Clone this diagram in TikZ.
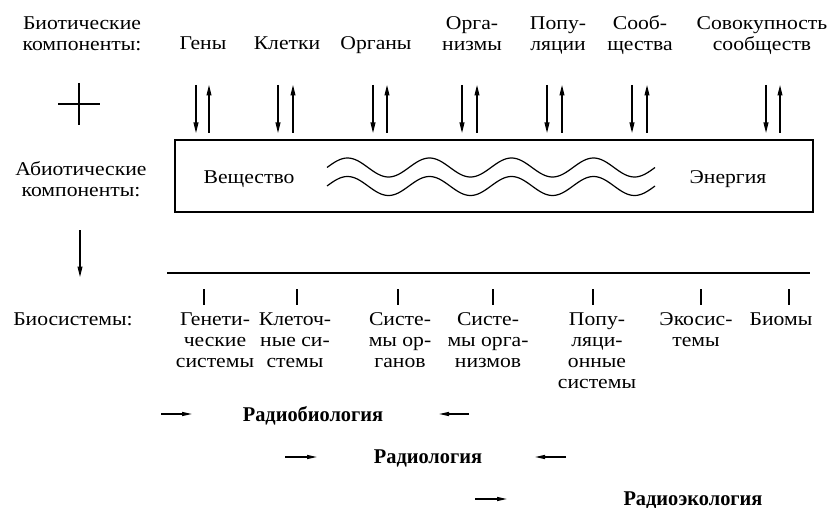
\documentclass[tikz,border=0pt]{standalone}
\usepackage{fontspec}
\setmainfont{Liberation Serif}[FakeStretch=1.11]
\newfontfamily\radfont{Liberation Serif}[FakeStretch=0.97,BoldFont={Liberation Serif Bold}]
\usetikzlibrary{arrows.meta}
\tikzset{
  lbl/.style={font=\fontsize{19.5}{21}\selectfont, align=center, inner sep=0pt, anchor=north},
  sl/.style={font=\fontsize{19.5}{21}\selectfont, inner sep=0pt, anchor=base},
  rad/.style={font=\radfont\bfseries\fontsize{21}{22}\selectfont, inner sep=0pt, anchor=base},
  arr/.style={line width=1.2pt, -{Triangle[length=10.5pt,width=4.8pt]}},
  sarr/.style={line width=1.2pt, -{Triangle[length=10pt,width=4pt]}},
  ln/.style={line width=1.2pt},
  tick/.style={line width=1.3pt}
}
\begin{document}
\begin{tikzpicture}[x=1pt,y=-1pt]
\useasboundingbox (0,0) rectangle (835,508);

% ---- top labels
\node[lbl] (bio) at (82,14.3) {\strut Биотические\\компоненты:};
\node[sl] (geny) at (203,50) {Гены};
\node[sl] (klet) at (287,50) {Клетки};
\node[sl] (org) at (376,50) {Органы};
\node[lbl] (orgm) at (472,14.3) {\strut Орга-\\низмы};
\node[lbl] (pop) at (558,14.3) {\strut Попу-\\ляции};
\node[lbl] (soob) at (640,14.3) {\strut Сооб-\\щества};
\node[lbl] (sov) at (762,14.3) {\strut Совокупность\\сообществ};

% ---- plus sign
\draw[line width=1.5pt] (58,104) -- (100,104);
\draw[line width=1.5pt] (79,83) -- (79,125);

% ---- box
\node[draw, ln, minimum width=638pt, minimum height=72pt, inner sep=0pt] (box) at (494,176) {};
\node[lbl] (abio) at (81,160.3) {\strut Абиотические\\компоненты:};
\node[sl] (vesh) at (249,183) {Вещество};
\node[sl] (energ) at (728,183) {Энергия};
\draw[line width=1.2pt] plot[domain=327:655, samples=200] (\x, {167.5 - 9.5*sin(4.390244*(\x-327))});
\draw[line width=1.2pt] plot[domain=327:655, samples=200] (\x, {186 - 9.5*sin(4.390244*(\x-327))});

% ---- arrows between biotic components and box
\coordinate (top) at (0,85);
\coordinate (bot) at (0,133);
\foreach \d/\u [count=\i] in {196/209, 278/293, 373/387, 462/477, 547/562, 632/647, 766/780}{
  \coordinate (d\i) at (\d,85);
  \coordinate (u\i) at (\u,85);
  \draw[arr] (d\i) -- (d\i |- bot);
  \draw[arr] (u\i |- bot) -- (u\i);
}

% ---- left down arrow
\coordinate (la) at (80,230);
\coordinate (lb) at (80,277);
\draw[arr] (la) -- (lb);

% ---- biosystems line and ticks
\coordinate (bl) at (167,273);
\coordinate (br) at (810,273);
\draw[ln] (bl) -- (br);
\foreach \t [count=\i] in {204,297,398,493,593,701,789}{
  \coordinate (t\i) at (\t,289);
  \draw[tick] (t\i) -- ++(0,16);
}

\node[sl] (biosys) at (73,325) {Биосистемы:};
\node[lbl] (gen) at (215,310.3) {\strut Генети-\\ческие\\системы};
\node[lbl] (kl) at (295,310.3) {\strut Клеточ-\\ные си-\\стемы};
\node[lbl] (so) at (400,310.3) {\strut Систе-\\мы ор-\\ганов};
\node[lbl] (sorg) at (488,310.3) {\strut Систе-\\мы орга-\\низмов};
\node[lbl] (ps) at (597,310.3) {\strut Попу-\\ляци-\\онные\\системы};
\node[lbl] (eko) at (696,310.3) {\strut Экосис-\\темы};
\node[sl] (biom) at (781,325) {Биомы};

% ---- radio rows
\node[rad] (rb) at (313,421) {Радиобиология};
\node[rad] (rl) at (428,463) {Радиология};
\node[rad] (re) at (693,505) {Радиоэкология};
\coordinate (r1a) at (161,414); \coordinate (r1b) at (192,414);
\coordinate (r1c) at (469,414); \coordinate (r1d) at (439,414);
\coordinate (r2a) at (285,457); \coordinate (r2b) at (317,457);
\coordinate (r2c) at (566,457); \coordinate (r2d) at (535,457);
\coordinate (r3a) at (475,499); \coordinate (r3b) at (507,499);
\draw[sarr] (r1a) -- (r1b);
\draw[sarr] (r1c) -- (r1d);
\draw[sarr] (r2a) -- (r2b);
\draw[sarr] (r2c) -- (r2d);
\draw[sarr] (r3a) -- (r3b);
\end{tikzpicture}
\end{document}
